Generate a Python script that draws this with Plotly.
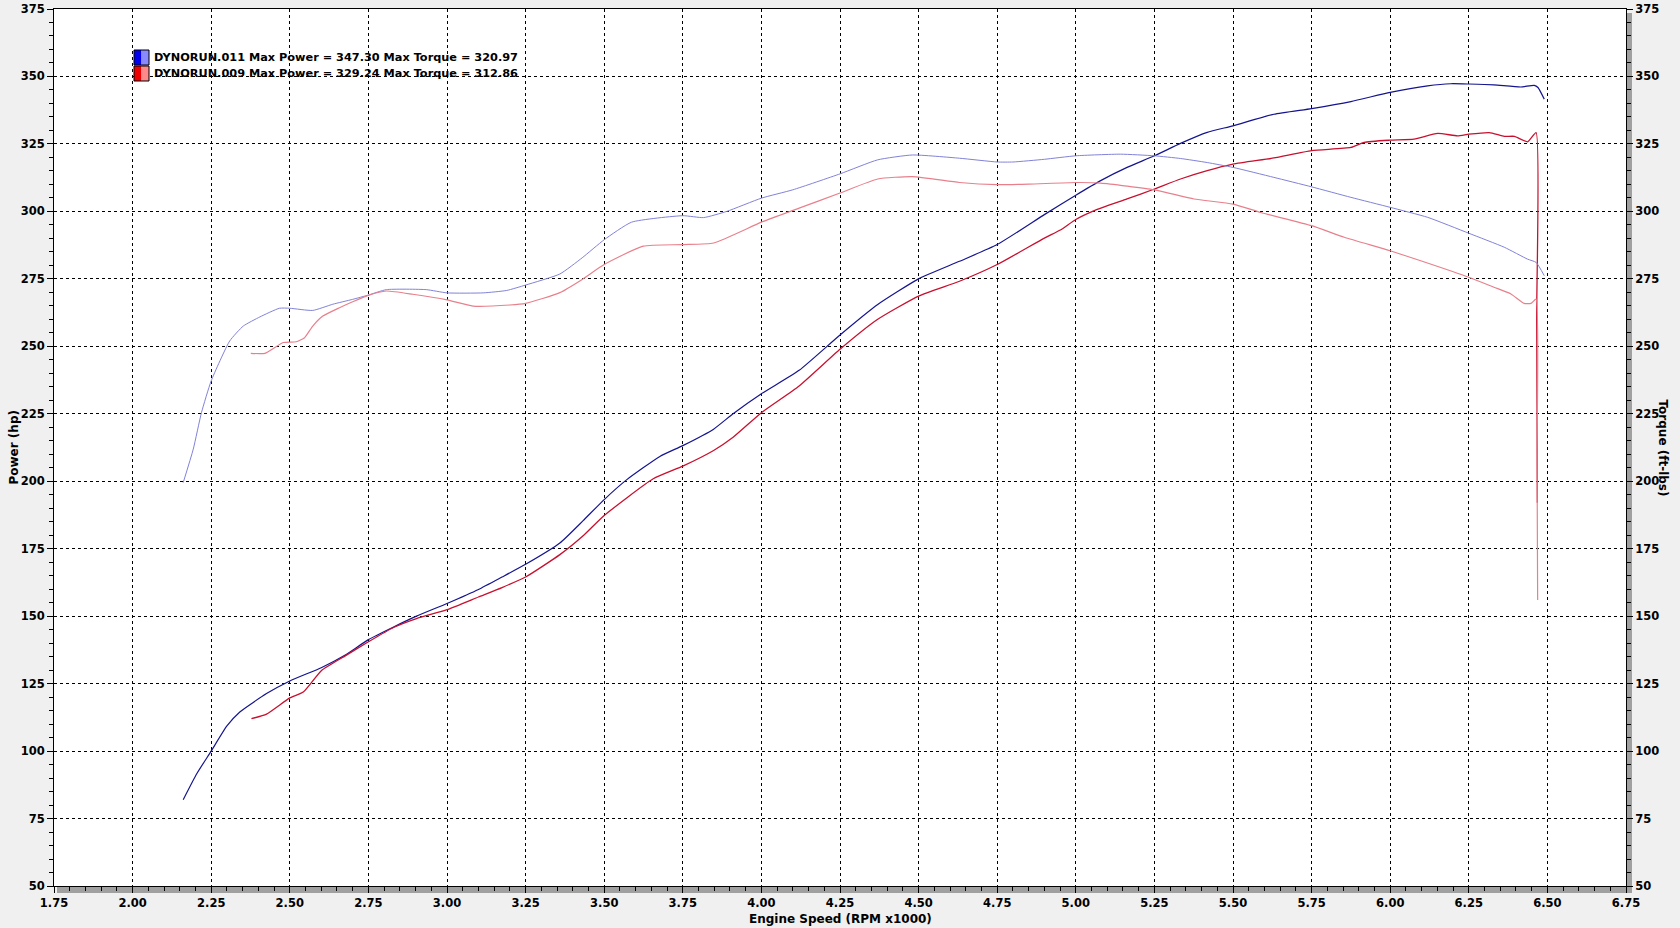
import plotly.graph_objects as go

# ---------------- data ----------------
rpm_011_power = [2.161, 2.204, 2.25, 2.30, 2.341, 2.426, 2.50, 2.60, 2.675, 2.75, 2.83, 2.903, 3.00, 3.10, 3.175,
                 3.25, 3.359, 3.433, 3.50, 3.571, 3.677, 3.75, 3.848, 3.91, 4.00, 4.12, 4.25, 4.37, 4.50, 4.63,
                 4.75, 4.90, 5.00, 5.079, 5.163, 5.25, 5.333, 5.418, 5.50, 5.63, 5.75, 5.875, 6.00, 6.119, 6.193,
                 6.25, 6.33, 6.415, 6.458, 6.47, 6.49]
power_011 = [82, 91.6, 100, 109.3, 114.5, 121.3, 126, 130.9, 135.5, 141.3, 146, 150, 154.7, 159.9, 164.5,
             169.2, 177.1, 185.4, 193.2, 200.5, 209.2, 213.2, 219.3, 225, 232.4, 241.1, 254.2, 265.5, 275, 281.5,
             287.7, 298.8, 306, 311.4, 316.3, 320.6, 325.2, 329.3, 331.7, 336, 338.1, 340.7, 344.1, 346.5, 347.3,
             347.2, 346.9, 346.1, 346.7, 345.9, 341.6]

rpm_011_torque = [2.161, 2.193, 2.219, 2.25, 2.309, 2.352, 2.405, 2.467, 2.50, 2.573, 2.637, 2.70, 2.75, 2.807,
                  2.934, 3.00, 3.115, 3.19, 3.25, 3.359, 3.43, 3.50, 3.587, 3.75, 3.816, 3.89, 4.00, 4.10, 4.25,
                  4.37, 4.48, 4.63, 4.75, 4.80, 4.90, 5.00, 5.142, 5.25, 5.333, 5.418, 5.50, 5.63, 5.75, 5.875,
                  6.00, 6.119, 6.25, 6.363, 6.437, 6.464, 6.49]
torque_011 = [199.5, 211.9, 225.4, 237.2, 252, 257.5, 260.9, 264.1, 264.1, 263.3, 265.6, 267.4, 269, 271,
              271, 269.8, 269.8, 270.7, 272.7, 276.8, 282.8, 289.5, 296, 298.4, 297.7, 300, 304.9, 308, 313.9,
              319.1, 320.9, 319.7, 318.3, 318.3, 319.3, 320.6, 321.2, 320.6, 319.6, 318.1, 316.3, 312.6, 309.1,
              305.2, 301.5, 297.8, 291.9, 286.7, 282.3, 281.1, 276.2]

rpm_009_power = [2.378, 2.426, 2.50, 2.543, 2.601, 2.675, 2.75, 2.83, 2.903, 3.00, 3.10, 3.175, 3.25, 3.359,
                 3.433, 3.50, 3.656, 3.75, 3.848, 3.91, 4.00, 4.12, 4.25, 4.37, 4.50, 4.63, 4.75, 4.90, 4.951,
                 5.00, 5.057, 5.163, 5.25, 5.333, 5.418, 5.50, 5.63, 5.75, 5.875, 5.917, 6.00, 6.076, 6.151,
                 6.214, 6.25, 6.315, 6.363, 6.395, 6.437, 6.464, 6.466, 6.468]
power_009 = [112, 113.7, 119.7, 121.9, 129.9, 135.2, 140.5, 145.8, 149.1, 152.4, 157.1, 160.6, 164.5, 172.8,
             179.8, 187.3, 200.9, 205.6, 211.4, 216.3, 225.4, 235.3, 248.9, 260, 268.6, 274.1, 280.3, 290.1, 293.1,
             297, 300.2, 304.6, 308.3, 312, 315.1, 317.5, 319.8, 322.5, 323.7, 325.6, 326.4, 326.8, 328.9,
             328, 328.6, 329.2, 327.8, 327.8, 325.8, 329.2, 262, 192]

rpm_009_torque = [2.376, 2.421, 2.479, 2.52, 2.547, 2.573, 2.605, 2.658, 2.70, 2.75, 2.807, 2.891, 3.00, 3.083,
                  3.20, 3.25, 3.359, 3.43, 3.50, 3.624, 3.75, 3.848, 4.00, 4.12, 4.25, 4.37, 4.48, 4.63, 4.75,
                  4.85, 5.00, 5.079, 5.25, 5.376, 5.50, 5.588, 5.75, 5.854, 6.00, 6.097, 6.25, 6.33, 6.384,
                  6.426, 6.448, 6.464, 6.467, 6.469]
torque_009 = [247.4, 247.4, 251.4, 251.7, 253.2, 257.5, 261.2, 264.3, 266.5, 268.9, 270.5, 269.3, 267.2, 264.9,
              265.3, 265.9, 269.9, 274.8, 280.3, 287.1, 287.7, 288.3, 296, 301.2, 306.8, 312, 312.9, 310.7, 309.9,
              310.1, 310.7, 310.5, 308, 304.6, 302.7, 299.6, 294.7, 290.4, 285.4, 281.7, 275.6, 271.9, 269.4,
              265.9, 265.9, 267.5, 210, 156]

legend_labels = ["DYNORUN.011 Max Power = 347.30 Max Torque = 320.97",
                 "DYNORUN.009 Max Power = 329.24 Max Torque = 312.86"]

x_title = "Engine Speed (RPM x1000)"
y_title = "Power (hp)"
y2_title = "Torque (ft-lbs)"

# ---------------- styling ----------------
W, H = 1680, 928
L, R, T, B = 54, 1626, 9, 886
FONT = "Verdana, DejaVu Sans, sans-serif"

C_BLUE_P = "#14148f"
C_BLUE_T = "#8282d8"
C_RED_P = "#c8102e"
C_RED_T = "#e8808c"


def px(xp):
    return (xp - L) / (R - L)


def py(yp):
    return (B - yp) / (B - T)


def line(color, width):
    return dict(color=color, width=width, shape="spline", smoothing=0.5)


fig = go.Figure()
fig.add_trace(go.Scatter(x=rpm_011_torque, y=torque_011, yaxis="y2", mode="lines",
                         line=line(C_BLUE_T, 1), showlegend=False))
fig.add_trace(go.Scatter(x=rpm_009_torque, y=torque_009, yaxis="y2", mode="lines",
                         line=line(C_RED_T, 1.2), showlegend=False))
fig.add_trace(go.Scatter(x=rpm_011_power, y=power_011, mode="lines",
                         line=line(C_BLUE_P, 1.2), showlegend=False))
fig.add_trace(go.Scatter(x=rpm_009_power, y=power_009, mode="lines",
                         line=line(C_RED_P, 1.3), showlegend=False))

tickfont = dict(family=FONT, size=11.5, color="black", weight="bold")
grid = dict(showgrid=True, gridcolor="black", gridwidth=1, griddash="3px,3px")

fig.update_layout(
    width=W, height=H,
    margin=dict(l=L, r=W - R, t=T, b=H - B, pad=0, autoexpand=False),
    paper_bgcolor="#f0f0f0",
    plot_bgcolor="white",
    showlegend=False,
    xaxis=dict(range=[1.75, 6.75], tick0=1.75, dtick=0.25, tickformat=".2f", **grid,
               showline=True, linecolor="black", linewidth=1, mirror=True,
               ticks="outside", ticklen=6, tickcolor="black", tickwidth=1,
               minor=dict(dtick=0.05, ticks="outside", ticklen=4, tickcolor="black", showgrid=False),
               tickfont=tickfont, zeroline=False, automargin=False),
    yaxis=dict(range=[50, 375], tick0=50, dtick=25, **grid,
               showline=True, linecolor="black", linewidth=1, mirror=True,
               ticks="outside", ticklen=6, tickcolor="black",
               minor=dict(dtick=5, ticks="outside", ticklen=4, tickcolor="black", showgrid=False),
               tickfont=tickfont, zeroline=False, automargin=False),
    yaxis2=dict(range=[50, 375], tick0=50, dtick=25, overlaying="y", side="right",
                showgrid=False, showline=False,
                ticks="outside", ticklen=6, tickcolor="black",
                minor=dict(dtick=5, ticks="outside", ticklen=4, tickcolor="black", showgrid=False),
                tickfont=tickfont, zeroline=False, automargin=False),
)

# gray 3D border bands (bottom and right)
fig.add_shape(type="rect", xref="paper", yref="paper", x0=px(57), x1=px(1632), y0=py(893), y1=py(886.5),
              fillcolor="#a0a0a0", line=dict(width=0), layer="below")
fig.add_shape(type="rect", xref="paper", yref="paper", x0=px(1626.5), x1=px(1632), y0=py(893), y1=py(13),
              fillcolor="#a0a0a0", line=dict(width=0), layer="below")

# legend swatches and text
sw = [(50, 65, "#0000ee", "#8a8aff"), (66, 81, "#ee0000", "#ff8a8a")]
for (y0, y1, c_dark, c_light), label in zip(sw, legend_labels):
    fig.add_shape(type="rect", xref="paper", yref="paper", x0=px(134), x1=px(141.5), y0=py(y1), y1=py(y0),
                  fillcolor=c_dark, line=dict(width=0))
    fig.add_shape(type="rect", xref="paper", yref="paper", x0=px(141.5), x1=px(149), y0=py(y1), y1=py(y0),
                  fillcolor=c_light, line=dict(width=0))
    fig.add_shape(type="rect", xref="paper", yref="paper", x0=px(134), x1=px(149), y0=py(y1), y1=py(y0),
                  fillcolor="rgba(0,0,0,0)", line=dict(color="black", width=1))
    fig.add_annotation(xref="paper", yref="paper", x=px(152), y=py((y0 + y1) / 2), text=label,
                       showarrow=False, xanchor="left", yanchor="middle",
                       font=dict(family=FONT, size=11.3, color="black", weight="bold"))

# axis titles
title_font = dict(family=FONT, size=12, color="black", weight="bold")
fig.add_annotation(xref="paper", yref="paper", x=0.5, y=py(919), text=x_title, showarrow=False,
                   xanchor="center", yanchor="middle", font=title_font)
fig.add_annotation(xref="paper", yref="paper", x=px(13), y=0.5, text=y_title, showarrow=False,
                   textangle=-90, xanchor="center", yanchor="middle", font=title_font)
fig.add_annotation(xref="paper", yref="paper", x=px(1663), y=0.5, text=y2_title, showarrow=False,
                   textangle=90, xanchor="center", yanchor="middle", font=title_font)

fig.write_html("out.html", config={"displayModeBar": False},
               post_script="document.body.style.margin='0';document.body.style.overflow='hidden';")
